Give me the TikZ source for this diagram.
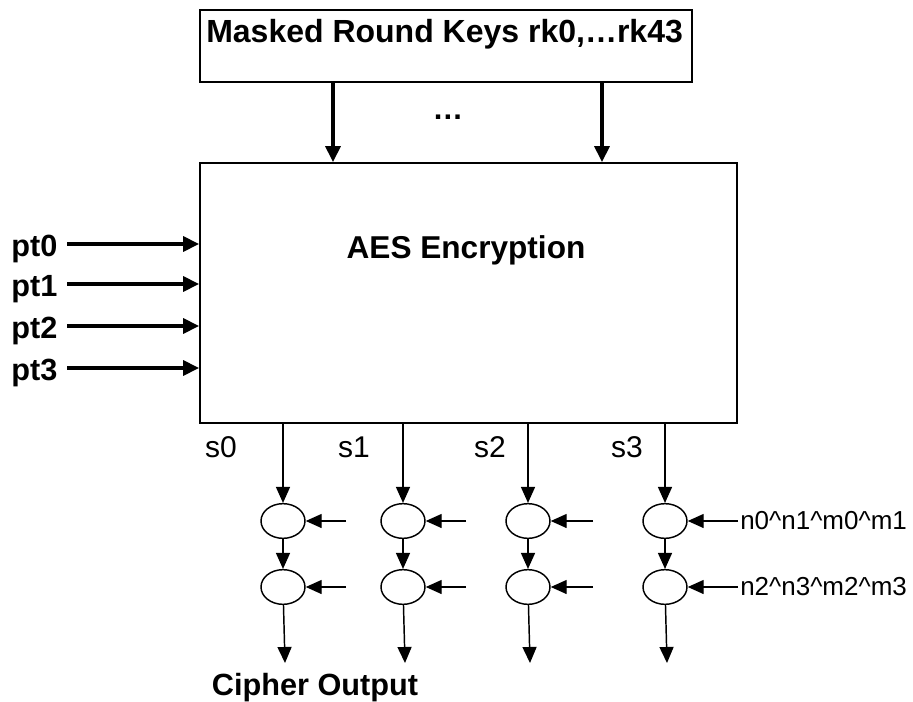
\documentclass[tikz,border=0pt]{standalone}
\usepackage{fontspec}
\setmainfont{Liberation Sans}
\usetikzlibrary{arrows.meta,shapes.geometric}

\begin{document}
\begin{tikzpicture}[x=0.75pt,y=-0.75pt,
    bigarrow/.style={line width=3.4pt,-{Triangle[length=12pt,width=11pt]}},
    arr/.style={line width=1.1pt,-{Triangle[length=12pt,width=10.5pt]}},
    xorop/.style={draw,ellipse,line width=1.1pt,minimum width=33pt,minimum height=26pt,inner sep=0pt},
    bold/.style={font=\fontsize{23}{27}\selectfont\bfseries},
    plain/.style={font=\fontsize{22.5}{26}\selectfont},
    small/.style={font=\fontsize{19.5}{23}\selectfont}]
  \useasboundingbox (0,0) rectangle (913,702);
  \node[draw,line width=1.2pt,minimum width=369pt,minimum height=54pt] (keys) at (446,46) {};
  \node[bold,font=\fontsize{24}{28}\selectfont\bfseries,anchor=west,inner sep=0pt] (keystxt) at (206,34) {Masked Round Keys rk0,…rk43};
  \node[draw,line width=1.2pt,minimum width=402.75pt,minimum height=195pt] (aes) at (468.5,293) {};
  \node[bold,font=\fontsize{23.7}{28}\selectfont\bfseries] (aestxt) at (466,250) {AES Encryption};
  \node[bold] (dots) at (448,117) {…};
  \foreach \k/\x in {0/333,1/602} {
    \coordinate (k\k) at (\x,0);
    \draw[bigarrow] (k\k |- keys.south) -- (k\k |- aes.north);
  }
  \foreach \i/\y in {0/244,1/284,2/326,3/368} {
    \coordinate (in\i) at (67,\y);
    \node[bold,anchor=east,inner sep=0pt,xshift=-7pt,yshift=-4pt] (pt\i) at (in\i) {pt\i};
    \draw[bigarrow] (in\i) -- (in\i -| aes.west);
  }
  \foreach \i/\x/\sx in {0/283/221,1/403/354,2/528/490,3/665/627} {
    \node[xorop] (x\i) at (\x,521) {};
    \node[xorop] (y\i) at (\x,587) {};
    \node[plain] (s\i) at (\sx,447) {s\i};
    \coordinate (o\i) at (\x+2,663);
    \draw[arr] (x\i.north |- aes.south) -- (x\i);
    \draw[arr] (x\i) -- (y\i);
    \draw[arr] (y\i) -- (o\i);
  }
  \foreach \i/\x in {0/346,1/466,2/593} {
    \coordinate (m\i) at (\x,521);
    \coordinate (n\i) at (\x,587);
    \draw[arr] (m\i) -- (x\i);
    \draw[arr] (n\i) -- (y\i);
  }
  \node[small,anchor=west,inner sep=1.5pt] (mask0) at (738,521) {n0\textasciicircum n1\textasciicircum m0\textasciicircum m1};
  \node[small,anchor=west,inner sep=1.5pt] (mask1) at (738,587) {n2\textasciicircum n3\textasciicircum m2\textasciicircum m3};
  \draw[arr] (mask0.west) -- (x3);
  \draw[arr] (mask1.west) -- (y3);
  \node[bold] (out) at (315,688) {Cipher Output};
\end{tikzpicture}
\end{document}
